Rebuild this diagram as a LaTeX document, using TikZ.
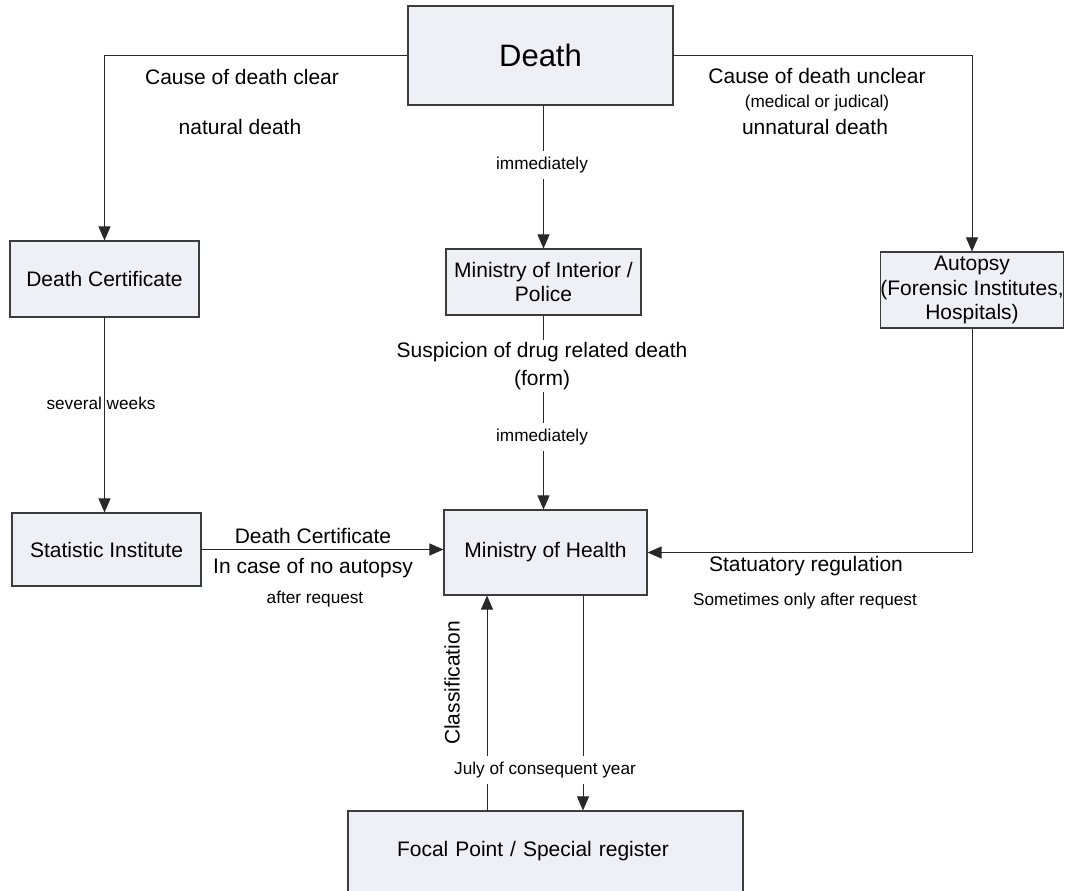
\documentclass[tikz,border=0pt]{standalone}
\usepackage{fontspec}
\setmainfont{Liberation Sans}
\definecolor{boxfill}{RGB}{238,240,245}
\definecolor{boxline}{RGB}{60,60,60}
\definecolor{flowline}{RGB}{40,40,40}
\usetikzlibrary{arrows.meta,positioning}

\begin{document}
\begin{tikzpicture}[x=0.5pt, y=-0.5pt,
    stagebox/.style={rectangle, draw=boxline, fill=boxfill, line width=0.55pt,
                     inner sep=0pt, align=center,
                     font=\fontsize{10.5}{12.4}\selectfont},
    flowlbl/.style={inner sep=1pt, align=center,
                    font=\fontsize{10.5}{14}\selectfont},
    notelbl/.style={inner xsep=1pt, inner ysep=3pt, align=center,
                    font=\fontsize{8.6}{10}\selectfont},
    flow/.style={draw=flowline, line width=0.5pt,
                 -{Triangle[length=7pt,width=6pt]}}
  ]
    \useasboundingbox (0,0) rectangle (1066,890);

    % Stages
    \node[stagebox, minimum width=132.5pt, minimum height=49.5pt,
          font=\fontsize{15.5}{18}\selectfont] (death) at (540.5,55.5) {Death};
    \node[stagebox, minimum width=94.5pt, minimum height=38pt]  (deathcert) at (104.5,279) {Death Certificate};
    \node[stagebox, minimum width=97.5pt, minimum height=33pt]  (interior) at (543.5,282) {Ministry of Interior /\\Police};
    \node[stagebox, minimum width=91.5pt, minimum height=38pt]  (autopsy) at (972,290) {Autopsy\\(Forensic Institutes,\\Hospitals)};
    \node[stagebox, minimum width=94.5pt, minimum height=36.5pt] (statinst) at (106.5,549.5) {Statistic Institute};
    \node[stagebox, minimum width=101.5pt, minimum height=42.5pt] (health) at (545.5,552.5) {Ministry of Health};
    \node[stagebox, minimum width=197.5pt, minimum height=40.5pt,
          inner xsep=24.5pt, text width=148.5pt, align=left] (focal) at (545.5,851.5) {Focal Point / Special register};

    \coordinate (upx)   at (487,0);
    \coordinate (downx) at (583,0);

    % Connectors
    \draw[flow] (death.west) -| (deathcert.north);
    \draw[flow] (death.east) -| (autopsy.north);
    \draw[flow] (death.south -| interior.north) -- (interior.north);
    \draw[flow] (interior.south) -- (interior.south |- health.north);
    \draw[flow] (deathcert.south) -- (deathcert.south |- statinst.north);
    \draw[flow] (statinst.east) -- (statinst.east -| health.west);
    \draw[flow] (autopsy.south) |- (health.east);
    \draw[flow] (health.south -| downx) -- (focal.north -| downx);
    \draw[flow] (focal.north -| upx) -- (health.south -| upx);

    % Labels
    \node[flowlbl] (clearlbl)     at (242,77)  {Cause of death clear};
    \node[flowlbl] (naturallbl)   at (240,127) {natural death};
    \node[flowlbl] (unclearlbl)   at (817,76)  {Cause of death unclear};
    \node[notelbl] (judicallbl)   at (817,103) {(medical or judical)};
    \node[flowlbl] (unnaturallbl) at (815,127) {unnatural death};
    \node[notelbl, fill=white] (immlbl)  at (542,165) {immediately};
    \node[notelbl] (weekslbl)     at (101,403) {several weeks};
    \node[flowlbl, fill=white] (suspiclbl) at (542,366) {Suspicion of drug related death\\(form)};
    \node[notelbl, fill=white] (imm2lbl) at (542,437) {immediately};
    \node[flowlbl] (dclbl)        at (313,536) {Death Certificate};
    \node[flowlbl] (noautolbl)    at (313,568) {In case of no autopsy};
    \node[notelbl] (reqlbl)       at (315,599) {after request};
    \node[flowlbl] (statlbl)      at (806,566) {Statuatory regulation};
    \node[notelbl] (sometimeslbl) at (805,601) {Sometimes only after request};
    \node[flowlbl, rotate=90] (classlbl) at (452,683) {Classification};
    \node[notelbl, fill=white] (julylbl) at (545,770) {July of consequent year};
\end{tikzpicture}
\end{document}
